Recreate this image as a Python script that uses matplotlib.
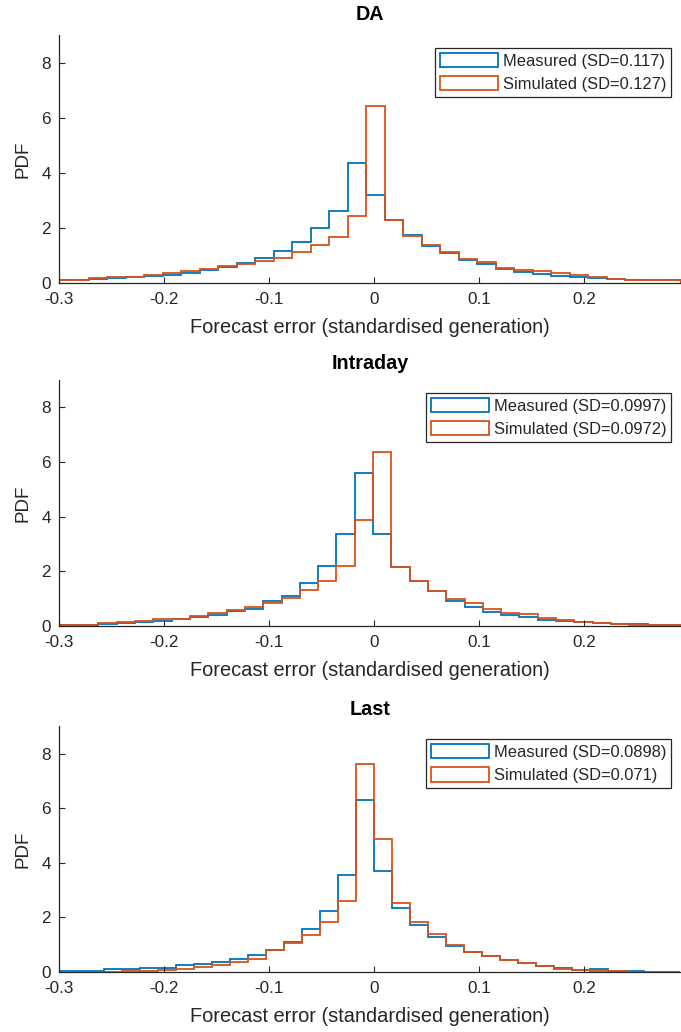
import numpy as np
import matplotlib
matplotlib.use("Agg")
import matplotlib.pyplot as plt
from matplotlib.patches import Patch

plt.rcParams['font.family'] = ['Liberation Sans', 'DejaVu Sans']
plt.rcParams['axes.unicode_minus'] = False

# bin edges of each histogram
edges_da = np.linspace(-0.3074, 0.2916, 35)
edges_intra = np.linspace(-0.3150, 0.2951, 36)
edges_last = np.linspace(-0.3086, 0.2914, 36)

# PDF values, Measured / Simulated
da_meas = [0.10, 0.10, 0.14, 0.19, 0.20, 0.27, 0.29, 0.36, 0.47, 0.59, 0.72, 0.89,
           1.17, 1.49, 2.00, 2.63, 4.36, 3.21, 2.27, 1.75, 1.35, 1.10, 0.85, 0.69,
           0.51, 0.39, 0.33, 0.27, 0.21, 0.17, 0.13, 0.10, 0.09, 0.10]
da_sim = [0.11, 0.11, 0.17, 0.22, 0.22, 0.29, 0.36, 0.45, 0.50, 0.63, 0.69, 0.81,
          0.89, 1.11, 1.38, 1.68, 2.43, 6.41, 2.27, 1.71, 1.37, 1.11, 0.87, 0.75,
          0.54, 0.47, 0.42, 0.36, 0.29, 0.21, 0.15, 0.11, 0.11, 0.10]

intra_meas = [0.04, 0.04, 0.04, 0.08, 0.10, 0.14, 0.20, 0.26, 0.32, 0.41, 0.54, 0.63,
              0.90, 1.10, 1.59, 2.21, 3.38, 5.60, 3.38, 2.16, 1.63, 1.27, 0.93, 0.68,
              0.51, 0.40, 0.32, 0.22, 0.17, 0.13, 0.10, 0.06, 0.06, 0.03, 0.02]
intra_sim = [0.04, 0.04, 0.04, 0.10, 0.13, 0.17, 0.24, 0.27, 0.37, 0.46, 0.60, 0.68,
             0.83, 1.04, 1.32, 1.63, 2.21, 3.87, 6.38, 2.16, 1.63, 1.27, 0.98, 0.83,
             0.63, 0.49, 0.44, 0.28, 0.23, 0.16, 0.10, 0.06, 0.04, 0.03, 0.02]

last_meas = [0.04, 0.04, 0.04, 0.11, 0.11, 0.15, 0.15, 0.24, 0.30, 0.37, 0.48, 0.61,
             0.80, 1.10, 1.59, 2.22, 3.55, 6.31, 3.71, 2.33, 1.71, 1.28, 0.96, 0.73,
             0.57, 0.43, 0.32, 0.23, 0.15, 0.09, 0.10, 0.04, 0.04, 0.0, 0.0]
last_sim = [0.0, 0.0, 0.0, 0.0, 0.03, 0.04, 0.08, 0.12, 0.18, 0.25, 0.37, 0.49,
            0.79, 1.07, 1.37, 1.84, 2.60, 7.61, 4.88, 2.53, 1.84, 1.38, 1.00, 0.73,
            0.57, 0.43, 0.32, 0.21, 0.12, 0.09, 0.05, 0.03, 0.0, 0.0, 0.0]

titles = ['DA', 'Intraday', 'Last']
sd_meas = ['0.117', '0.0997', '0.0898']
sd_sim = ['0.127', '0.0972', '0.071']
xticks = [-0.3, -0.2, -0.1, 0, 0.1, 0.2]
xticklabels = ['-0.3', '-0.2', '-0.1', '0', '0.1', '0.2']
yticks = [0, 2, 4, 6, 8]

panels = [(edges_da, da_meas, da_sim),
          (edges_intra, intra_meas, intra_sim),
          (edges_last, last_meas, last_sim)]

blue = '#0072BD'
orange = '#D95319'
dark = '#262626'

fig = plt.figure(figsize=(6.81, 10.32), dpi=100)
boxes = [[0.0871, 0.7258, 0.9128, 0.2403],
         [0.0871, 0.3934, 0.9128, 0.2384],
         [0.0871, 0.0581, 0.9128, 0.2380]]
title_pads = [11, 8, 8]

for i, (edges, meas, sim) in enumerate(panels):
    ax = fig.add_axes(boxes[i])
    ax.stairs(meas, edges, color=blue, lw=1.3, baseline=0)
    ax.stairs(sim, edges, color=orange, lw=1.3, baseline=0)
    ax.set_xlim(-0.3, 0.292)
    ax.set_ylim(0, 9)
    ax.set_xticks(xticks)
    ax.set_xticklabels(xticklabels)
    ax.set_yticks(yticks)
    for s in ['top', 'right']:
        ax.spines[s].set_visible(False)
    for s in ['left', 'bottom']:
        ax.spines[s].set_color(dark)
        ax.spines[s].set_linewidth(0.9)
    ax.tick_params(direction='in', length=4.5, width=0.8, colors=dark,
                   labelsize=12.3)
    ax.tick_params(axis='x', pad=6.5)
    ax.tick_params(axis='y', pad=6)
    ax.set_xlabel('Forecast error (standardised generation)', fontsize=14.4,
                  color=dark, labelpad=8)
    ax.set_ylabel('PDF', fontsize=13.5, color=dark, labelpad=7)
    ax.set_title(titles[i], fontsize=14.2, fontweight='bold', color='black',
                 pad=title_pads[i])

    handles = [Patch(facecolor='white', edgecolor=blue, lw=1.3),
               Patch(facecolor='white', edgecolor=orange, lw=1.3)]
    labels = ['Measured (SD=%s)' % sd_meas[i], 'Simulated (SD=%s)' % sd_sim[i]]
    leg = ax.legend(handles, labels, loc='upper right', bbox_to_anchor=(0.984, 0.948),
                    borderaxespad=0, fontsize=11.9, handlelength=3.5, handleheight=0.95,
                    handletextpad=0.3, labelspacing=0.45, borderpad=0.3,
                    fancybox=False, framealpha=1, edgecolor=dark)
    leg.get_frame().set_linewidth(0.9)
    for t in leg.get_texts():
        t.set_color(dark)

fig.savefig('out.png', dpi=100)
